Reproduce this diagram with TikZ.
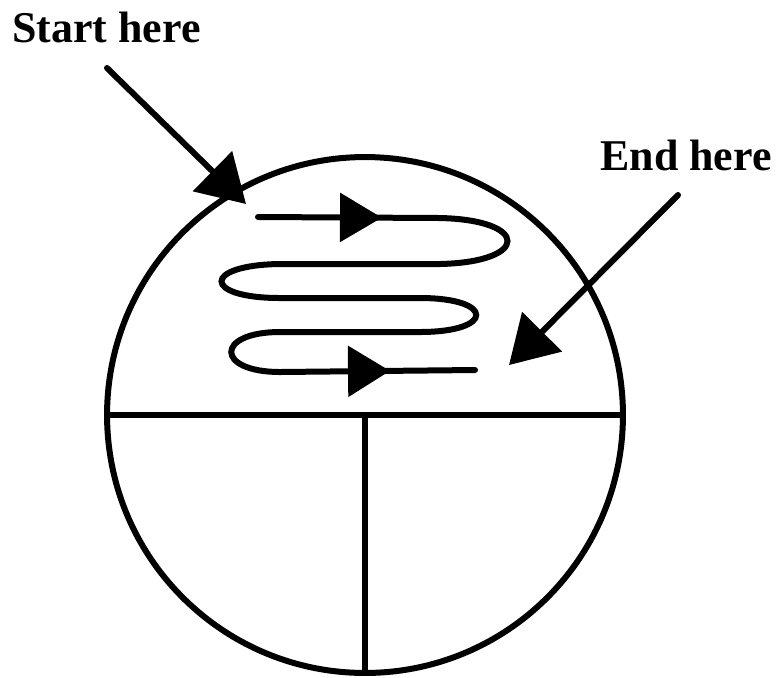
\documentclass[tikz,border=0pt]{standalone}
\usepackage{fontspec}
\setmainfont{Liberation Serif}
\usetikzlibrary{arrows.meta, decorations.markings}

\begin{document}
\begin{tikzpicture}[
    x=0.02cm, y=-0.02cm,
    stroke/.style={line width=0.12cm},
    pointer/.style={stroke, line cap=round, -{Triangle[length=0.94cm, width=1.1cm]}},
    caption/.style={font=\fontsize{25}{30}\selectfont\bfseries, inner sep=0pt, anchor=base west},
    snake/.style={stroke, line cap=round, postaction={decorate},
                  decoration={markings,
                    mark=at position 2.48cm with {\arrow{Triangle[length=0.84cm, width=0.96cm]}},
                    mark=at position -1.7cm with {\arrow{Triangle[length=0.84cm, width=1.0cm]}}}}
]
    \useasboundingbox (0,0) rectangle (776,677);

    \node[draw, stroke, circle, minimum size=10.32cm, inner sep=0pt] (disc) at (365,415) {};
    \draw[stroke] (disc.west) -- (disc.east);
    \draw[stroke] (disc.center) -- (disc.south);

    \node[caption] (start) at (12,42) {Start here};
    \node[caption] (end) at (600,170) {End here};

    \coordinate (starttail) at (107,68);
    \coordinate (starttip) at (246,204);
    \coordinate (endtail) at (678,195);
    \coordinate (endtip) at (509,365);

    \draw[pointer] (starttail) -- (starttip);
    \draw[pointer] (endtail) -- (endtip);

    \draw[snake] (258,217) -- (440,218)
        .. controls (530,220) and (530,262) .. (440,264) -- (280,264)
        .. controls (202,265) and (202,298) .. (280,298) -- (420,298)
        .. controls (495,298) and (495,332) .. (420,332) -- (280,332)
        .. controls (215,332) and (215,372) .. (280,372) -- (475,370);
\end{tikzpicture}
\end{document}
